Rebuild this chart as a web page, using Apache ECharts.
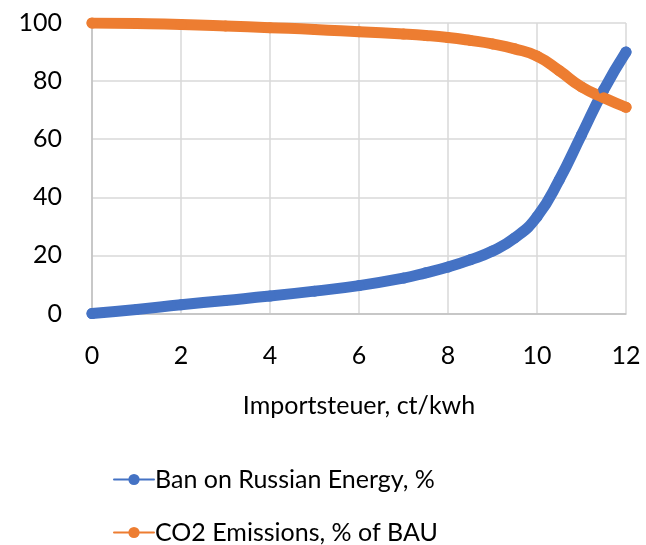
<!DOCTYPE html>
<html><head><meta charset="utf-8">
<script src="https://cdn.jsdelivr.net/npm/echarts@6/dist/echarts.min.js"></script>
<style>html,body{margin:0;padding:0;background:#fff}#c{width:646px;height:545px}</style>
</head><body><div id="c"></div>
<script>
const xValues = [0, 1, 2, 3, 4, 5, 6, 7, 7.5, 8, 8.5, 9, 9.5, 10, 10.5, 11, 11.5, 12];
const banRussian = [0, 1.4, 3, 4.5, 6, 7.7, 9.6, 12.2, 14, 16, 18.5, 21.5, 26, 33.3, 46, 61.5, 77, 90];
const co2Emissions = [100, 99.8, 99.5, 99, 98.4, 97.8, 97, 96.2, 95.7, 95, 94, 92.8, 91.1, 88.6, 83.6, 78, 74.3, 71];
const seriesNames = ['Ban on Russian Energy, %', 'CO2 Emissions, % of BAU'];
const xTitle = 'Importsteuer, ct/kwh';

const font = 'Lato, "Open Sans", sans-serif';
const chart = echarts.init(document.getElementById('c'));
const mk = (name, ys, color) => ({
  name, type: 'line', smooth: 0.5,
  data: xValues.map((x, i) => [x, ys[i]]),
  symbol: 'circle', symbolSize: 11, showSymbol: true,
  itemStyle: { color },
  lineStyle: { color, width: 11, cap: 'round', join: 'round' },
  animation: false
});
chart.setOption({
  animation: false,
  textStyle: { fontFamily: font },
  grid: { left: 92, right: 20, top: 23, bottom: 231.5, containLabel: false },
  xAxis: {
    type: 'value', min: 0, max: 12, interval: 2,
    name: xTitle, nameLocation: 'middle', nameGap: 80,
    nameTextStyle: { fontSize: 25, color: '#000', fontFamily: font },
    axisLine: { show: true, lineStyle: { color: '#bfbfbf', width: 1.5 } },
    axisTick: { show: false },
    axisLabel: { fontSize: 25, color: '#000', margin: 30, fontFamily: font },
    splitLine: { show: true, lineStyle: { color: '#d9d9d9', width: 1.5 } }
  },
  yAxis: {
    type: 'value', min: 0, max: 100, interval: 20,
    axisLine: { show: true, lineStyle: { color: '#bfbfbf', width: 1.5 } },
    axisTick: { show: false },
    axisLabel: { fontSize: 25, color: '#000', margin: 30, fontFamily: font },
    splitLine: { show: true, lineStyle: { color: '#d9d9d9', width: 1.5 } }
  },
  legend: {
    orient: 'vertical', left: 113, top: 467, itemGap: 28, padding: 0,
    itemWidth: 40, itemHeight: 14,
    textStyle: { fontSize: 25, color: '#000', fontFamily: font, padding: [0, 0, 0, -4] },
    data: seriesNames
  },
  series: [
    mk(seriesNames[0], banRussian, '#4472c4'),
    mk(seriesNames[1], co2Emissions, '#ed7d31')
  ]
});
</script></body></html>
